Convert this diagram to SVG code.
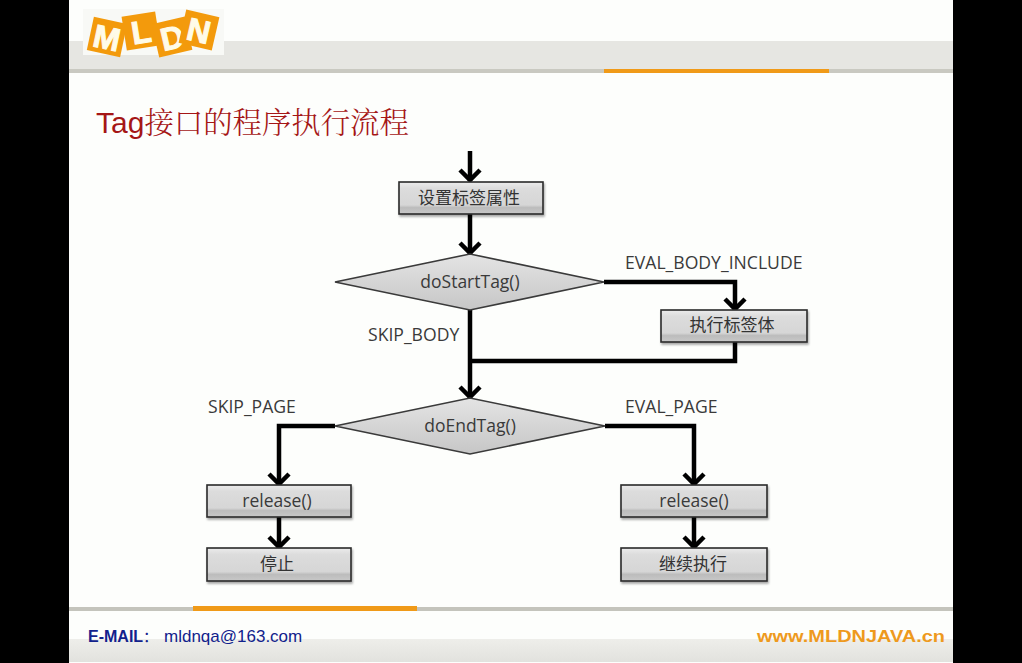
<svg xmlns="http://www.w3.org/2000/svg" width="1022" height="663" viewBox="0 0 1022 663">
<defs>
<linearGradient id="boxFill" x1="0" y1="0" x2="0" y2="1"><stop offset="0" stop-color="#ececec"/><stop offset="0.2" stop-color="#dcdcdc"/><stop offset="0.72" stop-color="#d6d6d6"/><stop offset="0.8" stop-color="#bcbcbc"/><stop offset="1" stop-color="#c8c8c8"/></linearGradient>
<linearGradient id="diaFill" x1="0" y1="0" x2="0" y2="1"><stop offset="0" stop-color="#e4e4e4"/><stop offset="1" stop-color="#c6c6c6"/></linearGradient>
<linearGradient id="footFill" x1="0" y1="0" x2="0" y2="1"><stop offset="0" stop-color="#eeeeea"/><stop offset="1" stop-color="#e2e2de"/></linearGradient>
<filter id="shadow" x="-5%" y="-15%" width="110%" height="135%"><feDropShadow dx="1" dy="2" stdDeviation="1.2" flood-color="#000" flood-opacity="0.35"/></filter>
<marker id="arrow" markerUnits="userSpaceOnUse" markerWidth="26" markerHeight="26" refX="17" refY="13" orient="auto" overflow="visible"><path d="M6 3 L16 13 L6 23" fill="none" stroke="#000" stroke-width="4.5"/></marker>
</defs>
<style>
.box{fill:url(#boxFill);stroke:#2a2a2a;stroke-width:1.6;filter:url(#shadow)}
.dia{fill:url(#diaFill);stroke:#3a3a3a;stroke-width:1.6}
.conn{fill:none;stroke:#000;stroke-width:4.5}
.t{font-family:"Open Sans","Noto Sans","Noto Sans CJK SC",sans-serif;font-size:17.5px;fill:#3a3a3a;text-anchor:middle}
.c{font-family:"Noto Sans CJK SC",sans-serif;font-size:17px;fill:#333;text-anchor:middle}
.l{font-family:"Open Sans","Noto Sans",sans-serif;font-size:17.6px;fill:#3a3a3a}
.tile{fill:#f39a0c}
.lt{font-family:"Liberation Sans",sans-serif;font-weight:bold;font-size:32px;fill:#fffbe8;stroke:#fffbe8;stroke-width:1;text-anchor:middle}
</style>
<rect width="1022" height="663" fill="#000"/>
<g id="slide">
<rect x="69" y="0" width="884" height="663" fill="#fdfefc"/>
<rect x="69" y="41" width="884" height="28" fill="#e6e6e2"/>
<rect x="69" y="69" width="884" height="4" fill="#c9c9c1"/>
<rect x="604" y="69" width="225" height="4" fill="#f09a18"/>
<rect x="69" y="607" width="884" height="4" fill="#c4c4bc"/>
<rect x="193" y="606" width="224" height="5" fill="#f09a18"/>
<rect x="69" y="639" width="884" height="23" fill="url(#footFill)"/>
</g>
<g id="logo">
<rect x="83" y="9" width="141" height="46" fill="#f8f9f6"/>
<g transform="rotate(12 107 37)"><rect class="tile" x="90" y="20" width="34" height="34"/><text class="lt" x="107" y="49">M</text></g>
<g transform="rotate(-9 141 31)"><rect class="tile" x="124" y="14" width="34" height="34"/><text class="lt" x="141" y="43">L</text></g>
<g transform="rotate(-13 172 37)"><rect class="tile" x="155" y="20" width="34" height="34"/><text class="lt" x="172" y="49">D</text></g>
<g transform="rotate(13 199 30)"><rect class="tile" x="182" y="13" width="34" height="34"/><text class="lt" x="199" y="42">N</text></g>
</g>
<text id="title" x="96" y="133" font-family="Liberation Sans,Noto Sans CJK SC,sans-serif" font-size="30" fill="#a51616">Tag<tspan font-family="Noto Serif CJK SC,Noto Sans CJK SC,serif" font-size="29.4" font-weight="300">接口的程序执行流程</tspan></text>
<g id="connectors">
<path class="conn" d="M470 151V181" marker-end="url(#arrow)"/>
<path class="conn" d="M470 214V254" marker-end="url(#arrow)"/>
<path class="conn" d="M604 282H735V310" marker-end="url(#arrow)"/>
<path class="conn" d="M470 310V398" marker-end="url(#arrow)"/>
<path class="conn" d="M735 342V361H470"/>
<path class="conn" d="M335 426H279V485" marker-end="url(#arrow)"/>
<path class="conn" d="M605 426H694V485" marker-end="url(#arrow)"/>
<path class="conn" d="M279 517V548" marker-end="url(#arrow)"/>
<path class="conn" d="M694 517V548" marker-end="url(#arrow)"/>
</g>
<g id="n-set"><rect class="box" x="399" y="182" width="144" height="32"/><text class="c" x="469" y="204">设置标签属性</text></g>
<g id="n-start"><polygon class="dia" points="335,282 470,254 604,282 470,310"/><text class="t" x="470" y="288">doStartTag()</text></g>
<g id="n-body"><rect class="box" x="661" y="310" width="146" height="32"/><text class="c" x="732" y="331">执行标签体</text></g>
<g id="n-end"><polygon class="dia" points="335,426 470,398 605,426 470,454"/><text class="t" x="470" y="432">doEndTag()</text></g>
<g id="n-rel1"><rect class="box" x="207" y="485" width="144" height="32"/><text class="t" x="277" y="507">release()</text></g>
<g id="n-stop"><rect class="box" x="207" y="548" width="144" height="33"/><text class="c" x="277" y="570">停止</text></g>
<g id="n-rel2"><rect class="box" x="621" y="485" width="146" height="32"/><text class="t" x="694" y="507">release()</text></g>
<g id="n-cont"><rect class="box" x="621" y="548" width="146" height="33"/><text class="c" x="693" y="570">继续执行</text></g>
<g id="labels">
<text class="l" x="625" y="269">EVAL_BODY_INCLUDE</text>
<text class="l" x="368" y="341">SKIP_BODY</text>
<text class="l" x="208" y="413">SKIP_PAGE</text>
<text class="l" x="625" y="413">EVAL_PAGE</text>
</g>
<g id="footer">
<text x="88" y="642" font-family="Liberation Sans,Noto Sans CJK SC,sans-serif" font-size="16" font-weight="bold" fill="#12228c">E-MAIL<tspan font-family="Noto Sans CJK SC,sans-serif" font-weight="400" font-size="15">：</tspan></text>
<text x="164" y="642" font-family="Liberation Sans,sans-serif" font-size="17" fill="#12228c">mldnqa@163.com</text>
<text x="757" y="642" font-family="Liberation Sans,sans-serif" font-size="17" font-weight="bold" fill="#ee9a1e" textLength="188" lengthAdjust="spacingAndGlyphs">www.MLDNJAVA.cn</text>
</g>
</svg>
